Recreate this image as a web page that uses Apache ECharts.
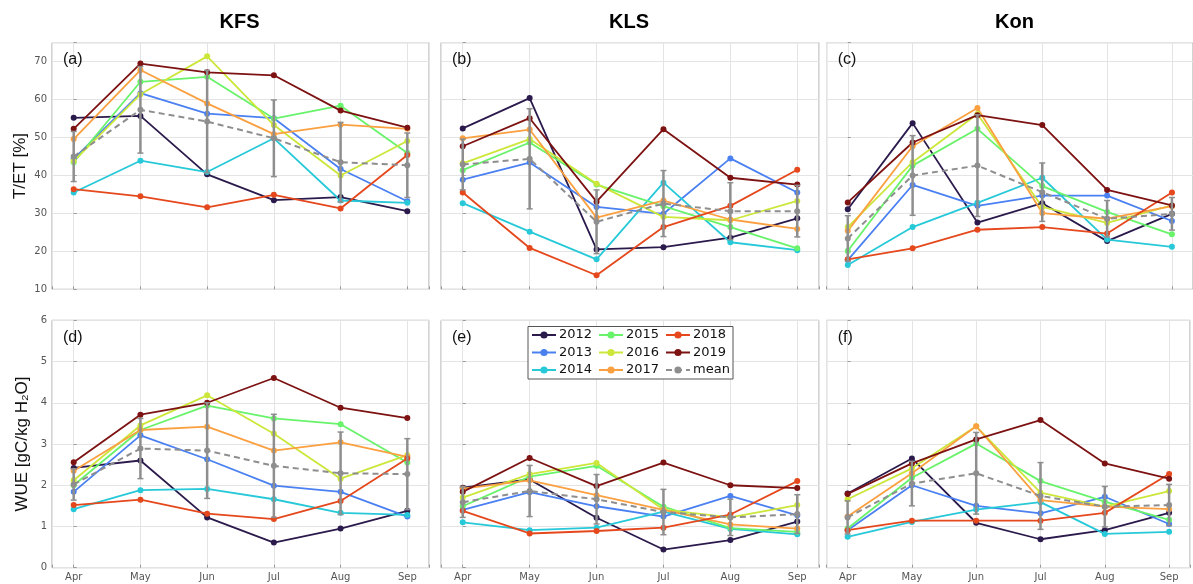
<!DOCTYPE html>
<html>
<head>
<meta charset="utf-8">
<script src="https://cdn.jsdelivr.net/npm/echarts@6/dist/echarts.min.js"></script>
<style>
html,body{margin:0;padding:0;background:#fff;}
#main{width:1193px;height:584px;}
</style>
</head>
<body>
<div id="main"></div>
<script>
const months = ['Apr','May','Jun','Jul','Aug','Sep'];
const years = ['2012','2013','2014','2015','2016','2017','2018','2019'];
const sites = ['KFS','KLS','Kon'];
const panelLetters = ['(a)','(b)','(c)','(d)','(e)','(f)'];
const yearColors = ['#2b1a4c','#4a80f2','#27c9d9','#68f36a','#cde63a','#fba040','#e5481c','#7d1212'];
const meanColor = '#8e8e8e';

// T/ET [%] per year (rows 2012..2019), columns Apr..Sep
const tetKFS = [
  [55.2,55.7,40.3,33.5,34.3,30.6],
  [44.4,61.7,56.3,55.1,41.7,33.2],
  [35.5,43.9,40.9,49.8,33.4,32.8],
  [43.5,64.7,66.0,55.0,58.4,45.9],
  [43.8,61.4,71.4,53.3,40.0,49.1],
  [49.6,67.8,59.0,50.9,53.4,52.3],
  [36.4,34.5,31.6,34.9,31.3,45.4],
  [52.3,69.5,67.2,66.4,57.1,52.6]
];
const tetKLS = [
  [52.4,60.4,20.5,21.1,23.6,28.7],
  [38.9,43.4,31.7,29.9,44.5,35.5],
  [32.7,25.2,17.9,38.1,22.4,20.3],
  [41.4,48.7,37.6,31.9,26.4,20.8],
  [43.2,49.6,37.8,29.1,28.2,33.3],
  [49.8,52.1,28.9,33.4,28.4,25.9],
  [35.5,20.9,13.7,26.4,32.0,41.5],
  [47.7,55.1,33.1,52.2,39.4,37.6]
];
const tetKon = [
  [31.1,53.8,27.6,32.7,22.7,29.9],
  [17.7,37.5,32.0,34.7,34.7,28.0],
  [16.4,26.4,32.8,39.4,23.1,21.2],
  [20.1,42.6,52.3,37.2,30.4,24.5],
  [26.4,43.5,56.2,31.7,27.5,32.1],
  [25.4,47.7,57.8,30.1,28.6,31.9],
  [17.9,20.8,25.7,26.4,24.7,35.5],
  [32.9,48.7,55.9,53.3,36.2,32.1]
];
const meanTetKFS = [45.0,57.3,54.2,49.8,43.5,42.7];
const sdTetKFS   = [6.6,11.4,13.5,10.1,10.5,8.5];
const meanTetKLS = [42.9,44.4,27.8,32.6,30.6,30.6];
const sdTetKLS   = [6.7,13.2,8.4,8.7,7.5,6.8];
const meanTetKon = [23.4,40.0,42.6,35.6,28.6,29.9];
const sdTetKon   = [6.0,10.5,13.4,7.7,4.8,4.3];

// WUE [gC/kg H2O]
const wueKFS = [
  [2.42,2.60,1.22,0.61,0.95,1.38],
  [1.84,3.21,2.63,1.99,1.84,1.24],
  [1.42,1.88,1.91,1.66,1.33,1.28],
  [2.00,3.34,3.93,3.62,3.48,2.55],
  [2.12,3.45,4.18,3.25,2.16,2.73],
  [2.35,3.34,3.42,2.84,3.04,2.69],
  [1.52,1.65,1.31,1.18,1.62,2.65],
  [2.56,3.71,4.00,4.60,3.88,3.63]
];
const wueKLS = [
  [1.94,2.14,1.21,0.44,0.67,1.12],
  [1.40,1.83,1.49,1.24,1.74,1.27],
  [1.10,0.91,0.97,1.36,0.94,0.81],
  [1.49,2.21,2.47,1.48,0.96,0.87],
  [1.70,2.27,2.54,1.41,1.22,1.52],
  [1.92,2.12,1.76,1.40,1.05,0.95],
  [1.38,0.83,0.89,0.97,1.29,2.10],
  [1.84,2.66,1.98,2.55,2.00,1.93]
];
const wueKon = [
  [1.80,2.65,1.09,0.69,0.91,1.33],
  [0.91,2.00,1.50,1.32,1.72,1.06],
  [0.75,1.11,1.41,1.59,0.82,0.87],
  [0.95,2.18,3.01,2.10,1.60,1.16],
  [1.66,2.41,3.43,1.82,1.48,1.86],
  [1.24,2.29,3.43,1.64,1.48,1.42],
  [0.91,1.14,1.14,1.14,1.33,2.27],
  [1.79,2.53,3.11,3.58,2.53,2.16]
];
const meanWueKFS = [2.02,2.89,2.84,2.47,2.29,2.27];
const sdWueKFS   = [0.38,0.73,1.16,1.25,1.00,0.86];
const meanWueKLS = [1.59,1.86,1.66,1.35,1.22,1.30];
const sdWueKLS   = [0.37,0.62,0.60,0.55,0.44,0.47];
const meanWueKon = [1.22,2.04,2.29,1.74,1.48,1.52];
const sdWueKon   = [0.40,0.54,0.99,0.81,0.49,0.50];

const panels = [
  {vals: tetKFS, mean: meanTetKFS, sd: sdTetKFS},
  {vals: tetKLS, mean: meanTetKLS, sd: sdTetKLS},
  {vals: tetKon, mean: meanTetKon, sd: sdTetKon},
  {vals: wueKFS, mean: meanWueKFS, sd: sdWueKFS},
  {vals: wueKLS, mean: meanWueKLS, sd: sdWueKLS},
  {vals: wueKon, mean: meanWueKon, sd: sdWueKon}
];

const colLeft = [52, 441, 826.7];
const colWidth = [377, 378, 377.5];
const rowTop = [42.7, 320.3];
const rowHeight = [246.6, 247.4];

const tickFont = {fontFamily: '"DejaVu Sans", sans-serif', fontSize: 10, color: '#555'};

const grids = [], xAxes = [], yAxes = [], series = [], graphics = [];
for (let p = 0; p < 6; p++) {
  const r = Math.floor(p / 3), c = p % 3;
  grids.push({left: colLeft[c], top: rowTop[r], width: colWidth[c], height: rowHeight[r],
    show: true, borderColor: '#a6a6a6', borderWidth: 1, backgroundColor: 'transparent'});
  xAxes.push({type: 'value', gridIndex: p, min: -0.325, max: 5.325, minInterval: 1, maxInterval: 1,
    axisLine: {show: false},
    axisTick: {show: true, inside: true, length: 3, lineStyle: {color: '#999'}},
    splitLine: {show: true, lineStyle: {color: '#e4e4e4', width: 1}},
    axisLabel: {show: r === 1, margin: 5, ...tickFont,
      formatter: v => (Math.abs(v - Math.round(v)) < 1e-6 && months[Math.round(v)]) ? months[Math.round(v)] : ''}
  });
  const yBase = {type: 'value', gridIndex: p,
    axisLine: {show: false},
    axisTick: {show: true, inside: true, length: 3, lineStyle: {color: '#999'}},
    splitLine: {show: true, lineStyle: {color: '#e4e4e4', width: 1}}};
  if (r === 0) {
    Object.assign(yBase, {min: 10, max: 75, interval: 10,
      axisLabel: {show: c === 0, margin: 5, ...tickFont, formatter: v => (v % 10 === 0 ? String(v) : '')}});
    if (c === 0) Object.assign(yBase, {name: 'T/ET [%]', nameLocation: 'middle', nameGap: 23, nameRotate: 90,
      nameTextStyle: {fontFamily: '"Liberation Sans", Arial, sans-serif', fontSize: 17, color: '#111'}});
  } else {
    Object.assign(yBase, {min: 0, max: 6, interval: 1,
      axisLabel: {show: c === 0, margin: 5, ...tickFont}});
    if (c === 0) Object.assign(yBase, {name: 'WUE [gC/kg H\u2082O]', nameLocation: 'middle', nameGap: 21, nameRotate: 90,
      nameTextStyle: {fontFamily: '"Liberation Sans", Arial, sans-serif', fontSize: 17, color: '#111'}});
  }
  yAxes.push(yBase);

  const pd = panels[p];
  years.forEach((y, k) => {
    series.push({type: 'line', name: y, xAxisIndex: p, yAxisIndex: p,
      data: pd.vals[k].map((v, i) => [i, v]),
      symbol: 'circle', symbolSize: 6, showSymbol: true,
      lineStyle: {width: 1.8, color: yearColors[k]},
      itemStyle: {color: yearColors[k]},
      animation: false, silent: true, z: 3});
  });
  series.push({type: 'custom', name: 'mean-err', xAxisIndex: p, yAxisIndex: p,
    data: pd.mean.map((m, i) => [i, m - pd.sd[i], m + pd.sd[i]]),
    encode: {x: 0, y: [1, 2]},
    renderItem: (params, api) => {
      const x = api.value(0);
      const a = api.coord([x, api.value(2)]);
      const b = api.coord([x, api.value(1)]);
      const w = 3;
      const st = {stroke: meanColor, lineWidth: 1.5};
      return {type: 'group', children: [
        {type: 'line', shape: {x1: a[0], y1: a[1], x2: b[0], y2: b[1]}, style: {stroke: meanColor, lineWidth: 2.5}},
        {type: 'line', shape: {x1: a[0] - w, y1: a[1], x2: a[0] + w, y2: a[1]}, style: st},
        {type: 'line', shape: {x1: b[0] - w, y1: b[1], x2: b[0] + w, y2: b[1]}, style: st}
      ]};
    },
    animation: false, silent: true, z: 4});
  series.push({type: 'line', name: 'mean', xAxisIndex: p, yAxisIndex: p,
    data: pd.mean.map((v, i) => [i, v]),
    symbol: 'circle', symbolSize: 6,
    lineStyle: {width: 2, color: meanColor, type: [6, 4]},
    itemStyle: {color: meanColor},
    animation: false, silent: true, z: 5});

  graphics.push({type: 'text', x: colLeft[c] + 11, y: rowTop[r] + 17, z: 10,
    style: {text: panelLetters[p], font: '16px "Liberation Sans", Arial, sans-serif', fill: '#111',
      textAlign: 'left', textVerticalAlign: 'middle', align: 'left', verticalAlign: 'middle'}});
}
sites.forEach((s, c) => {
  graphics.push({type: 'text', x: colLeft[c] + colWidth[c] / 2 - 1, y: 22, z: 10,
    style: {text: s, font: 'bold 20px "Liberation Sans", Arial, sans-serif', fill: '#000',
      textAlign: 'center', textVerticalAlign: 'middle', align: 'center', verticalAlign: 'middle'}});
});
// legend box
graphics.push({type: 'rect', z: 20, shape: {x: 528, y: 326.5, width: 205, height: 52.5},
  style: {fill: '#fff', stroke: '#555', lineWidth: 1}});

const legendCommon = {orient: 'vertical', top: 328, itemWidth: 24, itemHeight: 9, itemGap: 3.5,
  textStyle: {fontFamily: '"DejaVu Sans", sans-serif', fontSize: 13, color: '#111', lineHeight: 14, padding: [0, 0, 0, -2]},
  padding: 0, z: 30, selectedMode: false};
const legends = [
  Object.assign({}, legendCommon, {left: 531, data: years.slice(0, 3)}),
  Object.assign({}, legendCommon, {left: 598, data: years.slice(3, 6)}),
  Object.assign({}, legendCommon, {left: 665, data: [years[6], years[7], 'mean']})
];

const chart = echarts.init(document.getElementById('main'), null, {renderer: 'canvas'});
chart.setOption({
  backgroundColor: '#fff',
  animation: false,
  grid: grids,
  xAxis: xAxes,
  yAxis: yAxes,
  legend: legends,
  series: series,
  graphic: graphics
});
</script>
</body>
</html>
